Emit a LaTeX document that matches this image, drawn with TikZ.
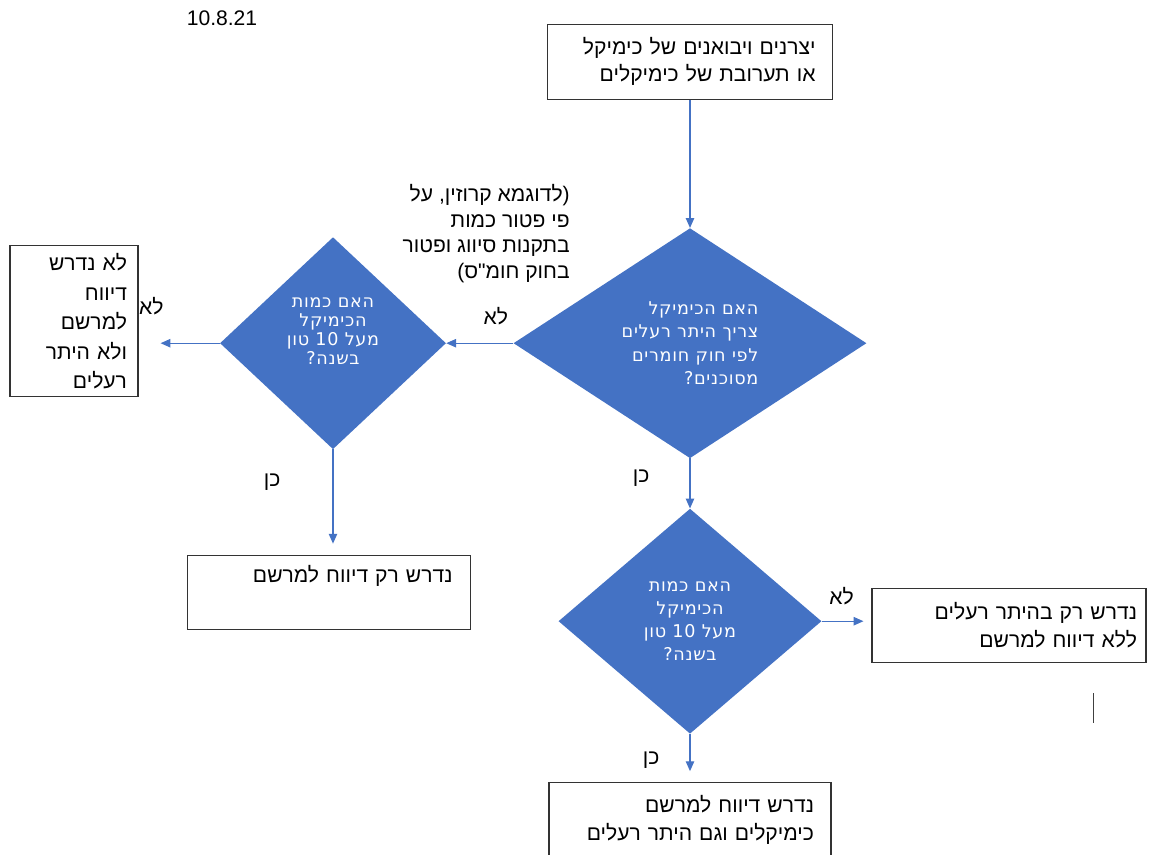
\documentclass[tikz,border=0pt]{standalone}
\usepackage{fontspec}
\setmainfont{Liberation Sans}
\newfontfamily\hebfont[Script=Hebrew]{Liberation Sans}
\newfontfamily\hebwide[Script=Hebrew, LetterSpace=4]{DejaVu Sans}
\TeXXeTstate=1
\usepackage{tikz}
\usetikzlibrary{arrows.meta, shapes.geometric, positioning}
\definecolor{chartblue}{HTML}{4472C4}
\newcommand{\rl}[1]{\beginR #1\endR}

\begin{document}
\begin{tikzpicture}[box/.style={draw=black!80, line width=0.8pt, rectangle, align=right, inner sep=0pt, font=\hebfont\fontsize{15}{20}\selectfont}, ask/.style={diamond, fill=chartblue, text=white, align=center, inner sep=0pt, font=\hebwide\fontsize{12.5}{16.5}\selectfont}, lbl/.style={inner sep=0pt, text=black, font=\hebfont\fontsize{15}{18}\selectfont}, post/.style={-{Triangle[length=7pt,width=6pt]}, chartblue, line width=0.75pt}]

				\clip (0,0) rectangle (28.8,-21.35);

				\node [inner sep=0pt, font=\fontsize{15}{18}\selectfont] (DATE) at (5.55,-0.45) {10.8.21};

				\node [box, minimum width=7.125cm, minimum height=1.875cm, text width=6.275cm, font=\hebfont\fontsize{15}{19.5}\selectfont] (IMP) at (17.25,-1.54)
					{\rl{יצרנים ויבואנים של כימיקל}\\ \rl{או תערובת של כימיקלים}};

				\node [ask, align=right, minimum width=8.825cm, minimum height=5.75cm, shape aspect=1.535] (HAZ)
					[below of = IMP, node distance=7.04cm]
					{\rl{האם הכימיקל}\\ \rl{צריך היתר רעלים}\\ \rl{לפי חוק חומרים}\\ \rl{מסוכנים?}};

				\node [ask, minimum width=5.65cm, minimum height=5.3cm, shape aspect=1.066, font=\hebwide\fontsize{12.5}{13.5}\selectfont] (QTY1)
					[left of = HAZ, node distance=8.925cm]
					{\rl{האם כמות}\\ \rl{הכימיקל}\\ \rl{מעל 10 טון}\\ \rl{בשנה?}\\ \strut};

				\node [box, minimum width=3.2cm, minimum height=3.775cm, text width=2.65cm, font=\hebfont\fontsize{15}{21}\selectfont] (NOREG)
					[left of = QTY1, node distance=6.475cm, yshift=0.55cm]
					{\rl{לא נדרש}\\ \rl{דיווח}\\ \rl{למרשם}\\ \rl{ולא היתר}\\ \rl{רעלים}};

				\node [box, minimum width=7.075cm, minimum height=1.85cm, text width=6.175cm] (ONLYREP)
					[below of = QTY1, node distance=6.225cm, xshift=-0.1cm]
					{\rl{נדרש רק דיווח למרשם}\\ \strut};

				\node [ask, minimum width=6.575cm, minimum height=5.625cm, shape aspect=1.169] (QTY2)
					[below of = HAZ, node distance=6.95cm]
					{\rl{האם כמות}\\ \rl{הכימיקל}\\ \rl{מעל 10 טון}\\ \rl{בשנה?}};

				\node [box, minimum width=6.85cm, minimum height=1.85cm, text width=6.4cm] (PERMIT)
					[right of = QTY2, node distance=7.975cm, yshift=-0.1cm]
					{\rl{נדרש רק בהיתר רעלים}\\ \rl{ללא דיווח למרשם}};

				\node [box, minimum width=7.05cm, minimum height=1.875cm, text width=6.2cm] (BOTH)
					[below of = QTY2, node distance=4.975cm]
					{\rl{נדרש דיווח למרשם}\\ \rl{כימיקלים וגם היתר רעלים}};

				\node [lbl, anchor=east, align=right, font=\hebfont\fontsize{15}{18.3}\selectfont] (NOTE) at (14.25,-5.84)
					{\rl{לדוגמא קרוזין, על}(\\ \rl{פי פטור כמות}\\ \rl{בתקנות סיווג ופטור}\\ )\rl{בחוק חומ"ס}};

				\draw[post] (IMP) -- (HAZ);
				\draw[post] (HAZ.west) -- node [lbl, pos=0.26, above=0.45cm] {\rl{לא}} (QTY1.east);
				\draw[post, shorten >=0.55cm] (QTY1.west) --
					node [lbl, pos=1, anchor=south west, yshift=0.7cm] {\rl{לא}} (QTY1.west -| NOREG.east);
				\draw[post, shorten >=0.275cm] (QTY1.south) --
					node [lbl, pos=0.31, left=1.3cm] {\rl{כן}} (QTY1.south |- ONLYREP.north);
				\draw[post] (HAZ.south) -- node [lbl, pos=0.4, left=1cm] {\rl{כן}} (QTY2.north);
				\draw[post, shorten >=0.2cm] (QTY2.east) --
					node [lbl, pos=0.4, above=0.4cm] {\rl{לא}} (QTY2.east -| PERMIT.west);
				\draw[post, shorten >=0.275cm] (QTY2.south) -- node [lbl, pos=0.54, left=0.75cm] {\rl{כן}} (BOTH.north);

				\draw[black!75, line width=0.9pt] (27.33,-17.33) -- (27.33,-18.08);

			\end{tikzpicture}
\end{document}
